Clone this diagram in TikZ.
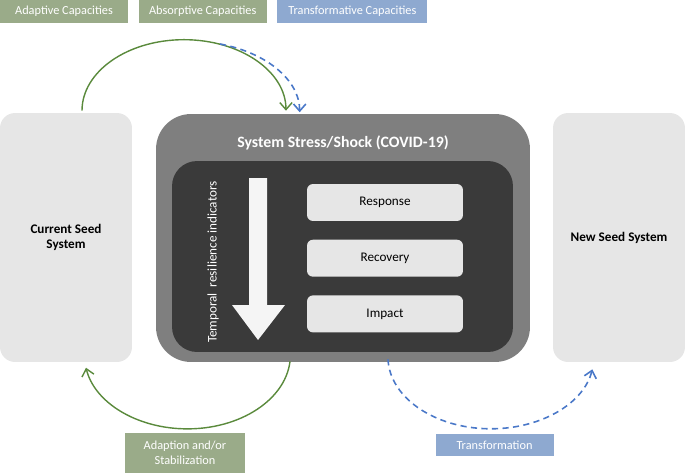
\documentclass[tikz,border=0pt]{standalone}
\usepackage{fontspec}
\setmainfont{Carlito}
\usetikzlibrary{positioning,arrows.meta}

\definecolor{capgreen}{HTML}{9AAB89}
\definecolor{capblue}{HTML}{8EA9D0}
\definecolor{arcgreen}{HTML}{5A8A3C}
\definecolor{arcblue}{HTML}{4A78C8}
\definecolor{shockgray}{HTML}{7F7F7F}
\definecolor{innergray}{HTML}{3A3A3A}
\definecolor{seedgray}{HTML}{E6E6E6}

\tikzset{%
  % Specifications for style of nodes:
         legend/.style = {rectangle, minimum height=0.46cm, text=white, font=\fontsize{7}{8.5}\selectfont, inner sep=1pt, align=center},
         seed/.style = {rectangle, rounded corners=0.3cm, fill=seedgray, minimum width=2.64cm, minimum height=4.98cm, font=\bfseries\fontsize{7.5}{9}\selectfont, align=center},
         stage/.style = {rectangle, rounded corners=0.12cm, fill=seedgray, minimum width=3.12cm, minimum height=0.74cm, font=\fontsize{7.5}{9}\selectfont},
         green arc/.style = {arcgreen, line width=0.8pt, -{Straight Barb[length=4pt,width=7pt]}},
         blue arc/.style = {arcblue, line width=0.9pt, dash pattern=on 3.5pt off 2.5pt, -{Straight Barb[length=4pt,width=7pt]}},
}

\begin{document}
\begin{tikzpicture}[x=0.02cm, y=-0.02cm]
    \useasboundingbox (0,0) rectangle (685,473);

    % Draw nodes
    \node (adaptive)    [legend, fill=capgreen, minimum width=2.56cm] at (64,11.5) {Adaptive Capacities};
    \node (absorptive)  [legend, fill=capgreen, minimum width=2.56cm, right=0.2cm of adaptive] {Absorptive Capacities};
    \node (transform)   [legend, fill=capblue, minimum width=3cm, right=0.2cm of absorptive] {Transformative Capacities};

    \node (current)     [seed] at (66,237.5) {Current Seed\\System};
    \node (newseed)     [seed] at (619,237.5) {New Seed System};

    \node (shock) [rectangle, rounded corners=0.7cm, fill=shockgray, minimum width=7.48cm, minimum height=4.96cm] at (343,238) {};
    \node (inner) [rectangle, rounded corners=0.5cm, fill=innergray, minimum width=6.82cm, minimum height=3.82cm] at (342.5,256.5) {};
    \node (title) [text=white, font=\bfseries\fontsize{9}{11}\selectfont] at (343,143) {System Stress/Shock (COVID-19)};

    \node (response)    [stage] at (385,202.5)            {Response};
    \node (recovery)    [stage, below=0.36cm of response] {Recovery};
    \node (impact)      [stage, below=0.36cm of recovery] {Impact};

    % time arrow and its label
    \fill[seedgray!40!white] (249,178) -- (267,178) -- (267,305) -- (285,305) -- (258,340) -- (232,305) -- (249,305) -- cycle;
    \node (temporal) [rotate=90, text=white, font=\fontsize{7.5}{9}\selectfont] at (213,262) {Temporal\ \ resilience indicators};

    \node (adaption)    [legend, fill=capgreen, minimum width=2.4cm, minimum height=0.8cm] at (185,453) {Adaption and/or\\Stabilization};
    \node (transfo)     [legend, fill=capblue, minimum width=2.36cm, minimum height=0.44cm] at (494.5,445) {Transformation};

    % Draw arrows
    \coordinate (bluestart) at (220,44);
    \draw[green arc] ([xshift=0.32cm,yshift=0.04cm]current.north) arc[start angle=180, end angle=0, x radius=2.04cm, y radius=1.42cm];
    \draw[blue arc]  (bluestart) arc[start angle=74, end angle=0, x radius=2.2cm, y radius=1.42cm];
    \draw[green arc] ([xshift=-1.06cm,yshift=0.02cm]shock.south) arc[start angle=-5, end angle=-170, x radius=2.06cm, y radius=1.48cm];
    \draw[blue arc]  ([xshift=0.9cm,yshift=0.06cm]shock.south) arc[start angle=-178, end angle=-10, x radius=2.06cm, y radius=1.44cm];
\end{tikzpicture}
\end{document}
